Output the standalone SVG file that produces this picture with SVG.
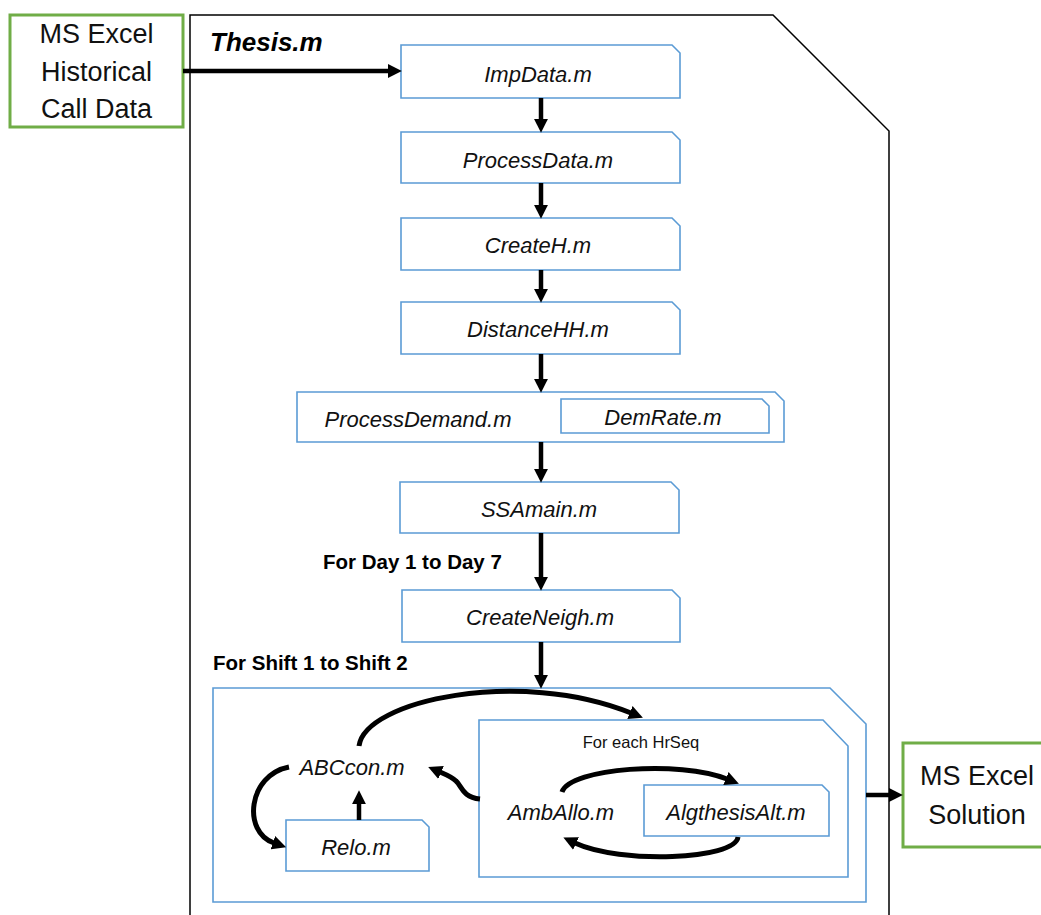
<svg xmlns="http://www.w3.org/2000/svg" width="1041" height="915" viewBox="0 0 1041 915">
<style>
.frame{fill:none;stroke:#000;stroke-width:1.5}
.blue{fill:#fff;stroke:#5B9BD5;stroke-width:1.6}
.green{fill:#fff;stroke:#70AD47;stroke-width:3}
.lbl{font-family:"Liberation Sans",Arial,sans-serif;font-style:italic;font-size:22px;fill:#111;text-anchor:middle}
.big{font-family:"Liberation Sans",Arial,sans-serif;font-size:27px;fill:#111;text-anchor:middle}
.bold{font-family:"Liberation Sans",Arial,sans-serif;font-weight:bold;font-size:20.5px;fill:#000}
.small{font-family:"Liberation Sans",Arial,sans-serif;font-size:16.5px;fill:#111;text-anchor:middle}
.arr{fill:none;stroke:#000;stroke-width:4.5;marker-end:url(#ah)}
.carr{fill:none;stroke:#000;stroke-width:5;marker-end:url(#ah)}
</style>
<defs>
<marker id="ah" viewBox="0 0 12 12" markerWidth="14" markerHeight="14" markerUnits="userSpaceOnUse" refX="1" refY="6" orient="auto">
<path d="M0,0 L12,6 L0,12 z" fill="#000"/>
</marker>
</defs>
<rect width="1041" height="915" fill="#fff"/>

<g id="thesis">
<path class="frame" d="M190,920 L190,15 L773,15 L889,131 L889,920"/>
<text x="210" y="51" font-family="Liberation Sans,Arial,sans-serif" font-weight="bold" font-style="italic" font-size="26" fill="#000">Thesis.m</text>
</g>

<g id="excel-in">
<rect class="green" x="10" y="15" width="173" height="112"/>
<text class="big" x="96.5" y="43">MS Excel</text>
<text class="big" x="96.5" y="81">Historical</text>
<text class="big" x="96.5" y="118">Call Data</text>
</g>

<g id="impdata">
<path class="blue" d="M401,45 H672 L680,53 V98 H401 Z"/>
<text class="lbl" x="538" y="82">ImpData.m</text>
</g>
<g id="processdata">
<path class="blue" d="M401,132 H672 L680,140 V183 H401 Z"/>
<text class="lbl" x="538" y="168">ProcessData.m</text>
</g>
<g id="createh">
<path class="blue" d="M401,218 H672 L680,226 V270 H401 Z"/>
<text class="lbl" x="538" y="253">CreateH.m</text>
</g>
<g id="distancehh">
<path class="blue" d="M401,302 H672 L680,310 V354 H401 Z"/>
<text class="lbl" x="538" y="337">DistanceHH.m</text>
</g>
<g id="processdemand">
<path class="blue" d="M297,392 H775 L784,401 V442 H297 Z"/>
<text class="lbl" x="418" y="427">ProcessDemand.m</text>
</g>
<g id="demrate">
<path class="blue" d="M561,399 H762 L769,406 V433 H561 Z"/>
<text class="lbl" x="663" y="425">DemRate.m</text>
</g>
<g id="ssamain">
<path class="blue" d="M400,482 H671 L679,490 V533 H400 Z"/>
<text class="lbl" x="539" y="517">SSAmain.m</text>
</g>
<text class="bold" x="323" y="569">For Day 1 to Day 7</text>
<g id="createneigh">
<path class="blue" d="M402,590 H672 L680,598 V642 H402 Z"/>
<text class="lbl" x="540" y="625">CreateNeigh.m</text>
</g>
<text class="bold" x="213" y="670">For Shift 1 to Shift 2</text>

<g id="shiftbox">
<path class="blue" d="M213,688 H830 L866,724 V902 H213 Z"/>
</g>
<g id="hrseqbox">
<path class="blue" d="M479,720 H823 L848,746 V877 H479 Z"/>
<text class="small" x="641" y="748">For each HrSeq</text>
</g>
<g id="abccon">
<text class="lbl" x="352" y="775">ABCcon.m</text>
</g>
<g id="relo">
<path class="blue" d="M286,820 H422 L429,827 V871 H286 Z"/>
<text class="lbl" x="356" y="855">Relo.m</text>
</g>
<g id="amballo">
<text class="lbl" x="561" y="820">AmbAllo.m</text>
</g>
<g id="algthesisalt">
<path class="blue" d="M644,785 H822 L829,792 V836 H644 Z"/>
<text class="lbl" x="736" y="820">AlgthesisAlt.m</text>
</g>

<g id="excel-out">
<rect class="green" x="903" y="743" width="150" height="104"/>
<text class="big" x="977" y="785">MS Excel</text>
<text class="big" x="977" y="824">Solution</text>
</g>

<g id="connectors">
<line class="arr" x1="183" y1="71" x2="389" y2="71"/>
<line class="arr" x1="541" y1="98" x2="541" y2="120"/>
<line class="arr" x1="541" y1="183" x2="541" y2="206"/>
<line class="arr" x1="541" y1="270" x2="541" y2="290"/>
<line class="arr" x1="541" y1="354" x2="541" y2="380"/>
<line class="arr" x1="541" y1="442" x2="541" y2="470"/>
<line class="arr" x1="541" y1="533" x2="541" y2="578"/>
<line class="arr" x1="541" y1="642" x2="541" y2="676"/>
<line class="arr" x1="866" y1="795" x2="890" y2="795"/>
<path class="carr" d="M359,746 C365,700 520,668 631,713"/>
<path class="carr" d="M289,767 C248,775 242,832 274,843"/>
<line class="arr" x1="359" y1="820" x2="359" y2="803"/>
<path class="carr" d="M480,799 C462,797 462,786 456,781 C452,777 447,775 440,772"/>
<path class="carr" d="M562,792 C570,768 680,760 727,779"/>
<path class="carr" d="M738,837 C735,860 620,864 575,843"/>
</g>
</svg>
